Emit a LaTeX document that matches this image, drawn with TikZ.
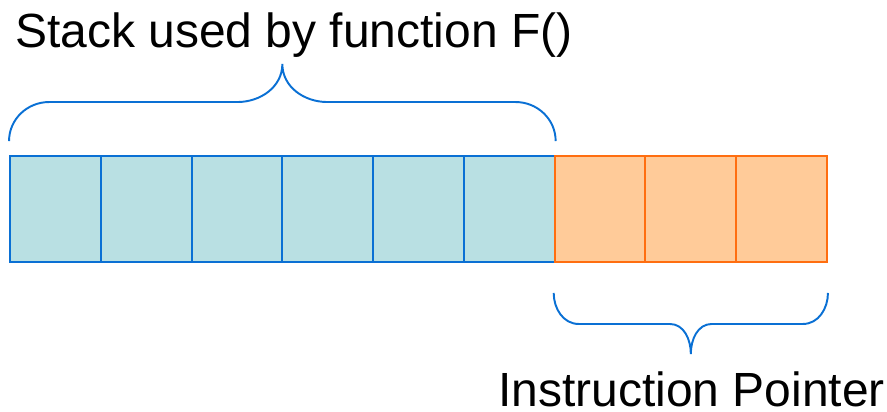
\documentclass[tikz,border=0pt]{standalone}
\usepackage{fontspec}
\setmainfont{Liberation Sans}
\usetikzlibrary{calc}
\definecolor{stackfill}{RGB}{185,224,227}
\definecolor{stackline}{RGB}{10,112,212}
\definecolor{ipfill}{RGB}{255,203,153}
\definecolor{ipline}{RGB}{255,110,16}
\tikzset{
    stackcell/.style={draw=stackline, fill=stackfill, line width=1.1pt, inner sep=0pt,
        minimum width=1.8156cm, minimum height=2.12cm},
    ipcell/.style={stackcell, draw=ipline, fill=ipfill},
    bracket/.style={draw=stackline, line width=1.1pt},
    caption/.style={font=\fontsize{27.3}{32}\selectfont, inner sep=0pt, anchor=base west}
}
\begin{document}
\begin{tikzpicture}
    \useasboundingbox (0,0) rectangle (17.74,8.22);

    % Stack von F()
    \node[stackcell] (c1) at (1.108, 4.04) {};
    \node[stackcell] (c2) at (2.923, 4.04) {};
    \node[stackcell] (c3) at (4.739, 4.04) {};
    \node[stackcell] (c4) at (6.555, 4.04) {};
    \node[stackcell] (c5) at (8.370, 4.04) {};
    \node[stackcell] (c6) at (10.186, 4.04) {};

    % Instruction Pointer
    \node[ipcell] (c7) at (12.001, 4.04) {};
    \node[ipcell] (c8) at (13.817, 4.04) {};
    \node[ipcell] (c9) at (15.632, 4.04) {};

    % obere Klammer
    \coordinate (sL) at ($(c1.north west)+(0,0.28)$);
    \coordinate (sR) at ($(c6.north east)+(0,0.28)$);
    \coordinate (sTip) at ($(sL)!0.5!(sR)+(0,1.54)$);
    \draw[bracket] (sL) to[out=90,in=180] ++(0.8,0.78)
        -- ($(sTip)+(-0.9,-0.76)$) to[out=0,in=-90] (sTip)
        to[out=-90,in=180] ++(0.9,-0.76)
        -- ($(sR)+(-0.8,0.78)$) to[out=0,in=90] (sR);
    \node[caption] (stacklabel) at (0.3, 7.27) {Stack used by function F()};

    % untere Klammer
    \coordinate (iL) at ($(c7.south west)+(0,-0.6)$);
    \coordinate (iR) at ($(c9.south east)+(0,-0.6)$);
    \coordinate (iTip) at ($(iL)!0.5!(iR)+(0,-1.22)$);
    \draw[bracket] (iL) to[out=-90,in=180] ++(0.5,-0.62)
        -- ($(iTip)+(-0.42,0.6)$) to[out=0,in=90] (iTip)
        to[out=90,in=180] ++(0.42,0.6)
        -- ($(iR)+(-0.5,-0.62)$) to[out=0,in=-90] (iR);
    \node[caption] (iplabel) at (9.96, 0.1) {Instruction Pointer};
\end{tikzpicture}
\end{document}
